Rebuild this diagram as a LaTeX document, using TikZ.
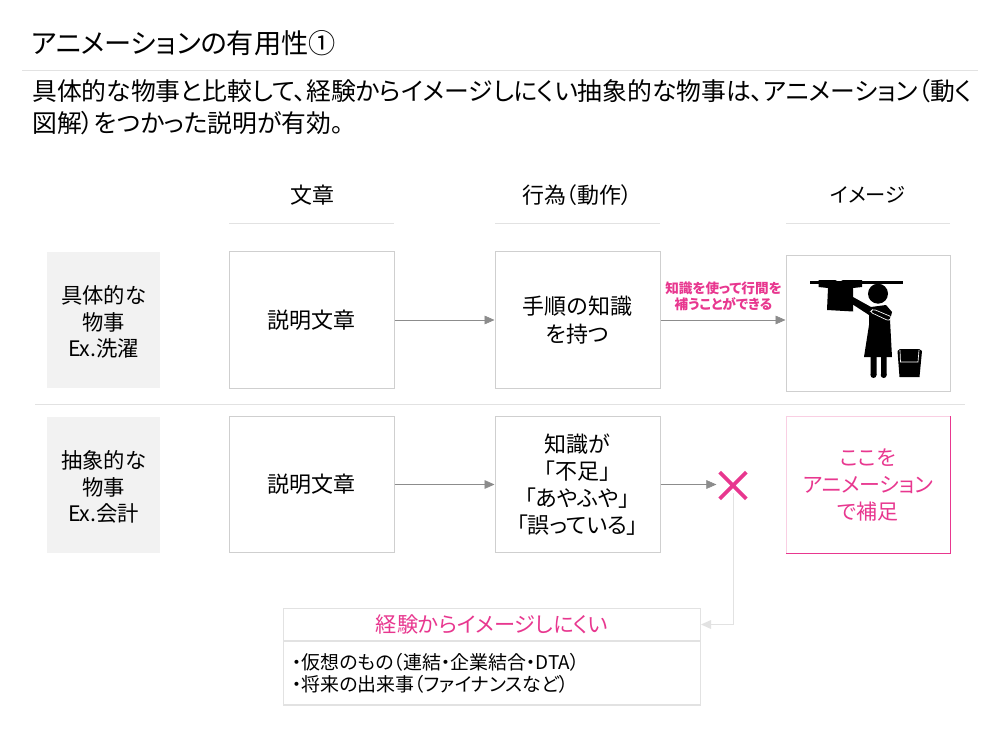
\documentclass[tikz,border=0pt]{standalone}
\usepackage{fontspec}
\usetikzlibrary{arrows.meta,shapes.misc,calc}
\setmainfont[RawFeature=+palt]{Noto Sans CJK JP}
\definecolor{hotpink}{HTML}{E8378F}
\definecolor{palepink}{HTML}{F9CFE3}
\definecolor{boxline}{HTML}{CFCFCF}
\definecolor{softline}{HTML}{E2E2E2}
\definecolor{arrowgrey}{HTML}{8C8C8C}
\definecolor{labelbg}{HTML}{F2F2F2}
\newcommand{\fs}[2]{\fontsize{#1}{#2}\selectfont}
\tikzset{
  x=0.75pt,y=-0.75pt,
  pxbox/.style={draw=boxline,line width=0.75pt,fill=white,inner sep=0pt,align=center,text=black,font=\fs{16.5}{20.25}},
  cellbox/.style={pxbox,minimum width=123.75pt,minimum height=102.5pt,anchor=center},
  sidebox/.style={fill=labelbg,inner sep=0pt,minimum width=84.75pt,minimum height=102.5pt},
  sidetext/.style={inner sep=0pt,align=center,font=\fs{16}{20},text=black,yshift=-1.5pt},
  headtext/.style={font=\fs{16.5}{20},text=black,inner sep=0pt},
  flow/.style={draw=arrowgrey,line width=0.5pt,-{Triangle[length=7.5pt,width=6.5pt,fill=arrowgrey]}},
  softflow/.style={draw=softline,line width=0.7pt,-{Triangle[length=7.5pt,width=6.5pt,fill=softline]}},
  rulegrey/.style={draw=softline,line width=0.75pt},
}
\begin{document}
\begin{tikzpicture}
\useasboundingbox[fill=white] (0,0) rectangle (1000,731);
% title
\node[anchor=west,inner sep=0pt,font=\fs{20.4}{24}] (title) at (31,43) {アニメーションの有用性①};
\draw[rulegrey] (22,70.5) -- (978,70.5);
\node[anchor=north west,inner sep=0pt,font=\fs{18.6}{23.5},align=left] (lead) at (32,79.5) {具体的な物事と比較して、経験からイメージしにくい抽象的な物事は、アニメーション（動く\\図解）をつかった説明が有効。};
% headers
\node[headtext] (h1) at (312,195) {文章};
\node[headtext] (h2) at (577,195) {行為（動作）};
\node[headtext,font=\fs{15.2}{20}] (h3) at (868,195) {イメージ};
\draw[rulegrey] (229,223.5) -- (394,223.5);
\draw[rulegrey] (495,223.5) -- (660,223.5);
\draw[rulegrey] (786,223.5) -- (950,223.5);
\draw[rulegrey] (35,404) -- (965,404);
% side labels
\node[sidebox,label={[sidetext]center:{具体的な\\物事\\Ex.洗濯}}] (s1) at (103.5,320) {};
\node[sidebox,label={[sidetext]center:{抽象的な\\物事\\Ex.会計}}] (s2) at (103.5,485) {};
% row 1
\node[cellbox] (a1) at (311.5,320) {説明文章};
\node[cellbox] (b1) at (577.5,320) {手順の知識\\[0.5pt]を持つ};
\node[cellbox,minimum width=123pt] (c1) at (868,323.5) {};
% row 2
\node[cellbox] (a2) at (311.5,484.5) {説明文章};
\node[cellbox] (b2) at (577.5,484.5) {知識が\\「不足」\\「あやふや」\\「誤っている」};
\node[cellbox,minimum width=123pt,draw=palepink,text=hotpink,font=\fs{15.7}{20.25}] (c2) at (868,485) {ここを\\アニメーション\\で補足};
\draw[hotpink,line width=0.9pt] (c2.north east) -- (c2.south east) -- (c2.south west);
\node[cross out,draw=hotpink,line width=2.9pt,minimum size=17pt,inner sep=0pt] (x) at (733,485.5) {};
% connector text
\node[inner sep=0pt,align=center,text=hotpink,font=\fs{10.2}{12}\bfseries] (note) at (723.5,296) {知識を使って行間を\\補うことができる};
% connectors
\draw[flow] (a1.east) -- (b1.west);
\draw[flow] (b1.east) -- (b1.east -| c1.west);
\draw[flow] (a2.east) -- (a2.east -| b2.west);
\coordinate (xin) at ($(x.west |- b2.east)+(-2.5pt,0)$);
\draw[flow] (b2.east) -- (xin);
% bottom box
\node[pxbox,draw=softline,line width=1pt,minimum width=312.5pt,minimum height=24pt,text=hotpink,font=\fs{15.9}{20}] (k) at (492,624.5) {経験からイメージしにくい};
\node[pxbox,draw=softline,line width=1pt,minimum width=312.5pt,minimum height=48pt,font=\fs{14.2}{16.5},align=left,text width=300pt] (l) at (492,673) {・仮想のもの（連結・企業結合・DTA）\\・将来の出来事（ファイナンスなど）};
\draw[softflow] ($(x.south)+(0,4pt)$) |- (k.east);
% pictogram
\begin{scope}
\fill[black] (810,281) rectangle (903,283.5);
\fill[black] (818.5,280) -- (835,280) -- (839,282) -- (843,280) -- (862,280) -- (862,287) -- (853,288) -- (853,311.5) -- (827,310) -- (828,288) -- (818.5,287) -- cycle;
\fill[black] (878,293.7) circle (10);
\fill[black] (853,297) -- (871,307) -- (886,305) -- (892,312) -- (890,320) -- (892,357) -- (864,357) -- (869,325) -- (869,315) -- (852,304) -- cycle;
\fill[black] (870.5,355) rectangle (876.5,375) (881,355) rectangle (886.5,375);
\fill[black] (873.5,375) circle (3) (883.7,375) circle (3);
\fill[black] (897.5,351) -- (900,349) -- (919,349) -- (922,351) -- (919.5,377) -- (899.5,377) -- cycle;
\draw[white,line width=0.5pt,rounded corners=2pt] (873,309) -- (870,312) -- (889,321) -- (892,317) -- cycle;
\draw[white,line width=0.5pt] (900,350) -- (900.5,362) -- (918,362) -- (919,350);
\end{scope}
\end{tikzpicture}
\end{document}
